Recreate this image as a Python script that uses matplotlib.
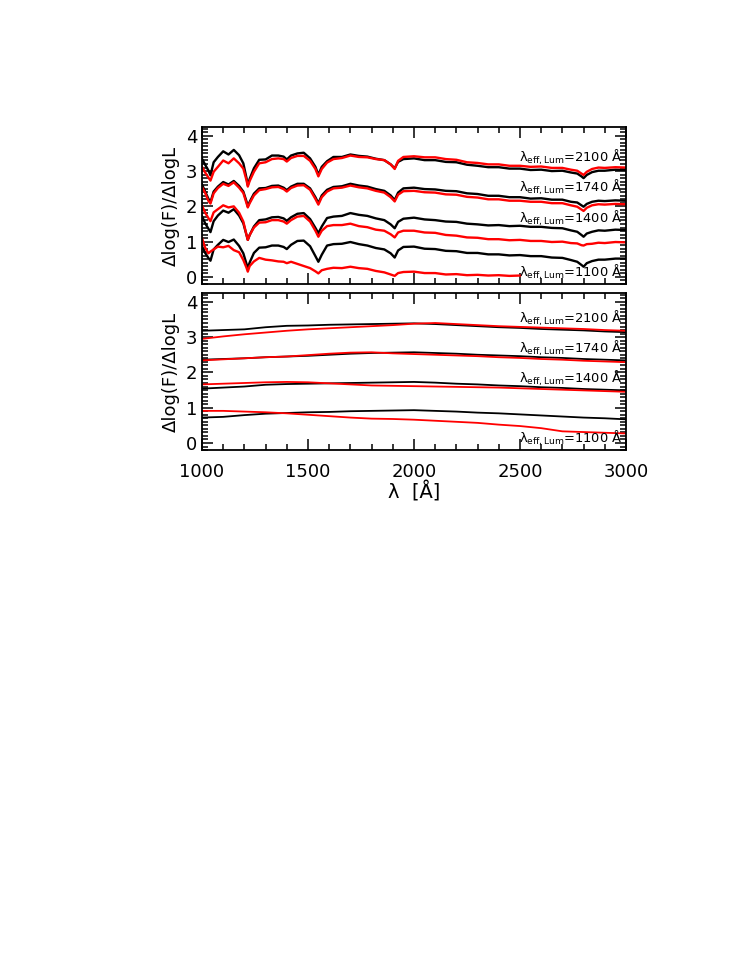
import numpy as np
import matplotlib
matplotlib.use('Agg')
import matplotlib.pyplot as plt
from matplotlib.ticker import MultipleLocator

# Gornji panel: spektri (talasna duzina u Angstremima)
wl_spec = [1000, 1015, 1030, 1040, 1055, 1075, 1100, 1125, 1150, 1175, 1195, 1210, 1216,
           1225, 1245, 1270, 1300, 1330, 1360, 1385, 1400, 1420, 1450, 1480, 1510, 1535,
           1549, 1565, 1590, 1620, 1660, 1700, 1740, 1780, 1820, 1860, 1890, 1909, 1925,
           1950, 2000, 2050, 2100, 2150, 2200, 2250, 2300, 2350, 2400, 2450, 2500, 2550,
           2600, 2650, 2700, 2740, 2770, 2790, 2800, 2815, 2840, 2870, 2900, 2950, 3000]

spec_black_2100 = [3.35, 3.18, 3.02, 2.88, 3.25, 3.40, 3.56, 3.47, 3.60, 3.45, 3.22, 2.80, 2.60,
                   2.78, 3.08, 3.32, 3.33, 3.44, 3.44, 3.41, 3.33, 3.44, 3.50, 3.52, 3.36, 3.12,
                   2.90, 3.12, 3.28, 3.40, 3.40, 3.47, 3.43, 3.41, 3.35, 3.31, 3.19, 3.08, 3.26,
                   3.34, 3.36, 3.31, 3.31, 3.26, 3.25, 3.18, 3.15, 3.11, 3.11, 3.07, 3.07, 3.03,
                   3.04, 3.00, 3.01, 2.96, 2.93, 2.85, 2.80, 2.89, 2.97, 3.01, 3.01, 3.04, 3.03]
spec_red_2100 = [3.12, 2.96, 2.82, 2.73, 2.98, 3.12, 3.30, 3.22, 3.36, 3.22, 3.07, 2.74, 2.56,
                 2.72, 2.98, 3.22, 3.25, 3.34, 3.36, 3.34, 3.27, 3.37, 3.43, 3.43, 3.29, 3.06,
                 2.85, 3.06, 3.24, 3.34, 3.37, 3.44, 3.40, 3.39, 3.34, 3.31, 3.19, 3.06, 3.29,
                 3.40, 3.42, 3.39, 3.39, 3.34, 3.32, 3.25, 3.23, 3.19, 3.19, 3.15, 3.15, 3.12,
                 3.13, 3.09, 3.09, 3.04, 3.01, 2.93, 2.89, 2.98, 3.06, 3.10, 3.09, 3.11, 3.10]
spec_black_1740 = [2.62, 2.42, 2.22, 2.12, 2.42, 2.56, 2.69, 2.62, 2.72, 2.58, 2.42, 2.14, 2.00,
                   2.13, 2.36, 2.51, 2.52, 2.58, 2.59, 2.53, 2.46, 2.56, 2.64, 2.64, 2.51, 2.26,
                   2.09, 2.31, 2.47, 2.55, 2.57, 2.64, 2.59, 2.56, 2.49, 2.44, 2.31, 2.18, 2.39,
                   2.51, 2.53, 2.49, 2.48, 2.44, 2.43, 2.37, 2.35, 2.30, 2.30, 2.26, 2.26, 2.22,
                   2.23, 2.19, 2.19, 2.13, 2.11, 2.03, 1.99, 2.07, 2.13, 2.16, 2.15, 2.17, 2.16]
spec_red_1740 = [2.55, 2.38, 2.16, 2.08, 2.37, 2.52, 2.64, 2.58, 2.68, 2.53, 2.38, 2.09, 1.97,
                 2.09, 2.31, 2.46, 2.49, 2.54, 2.55, 2.49, 2.42, 2.52, 2.59, 2.60, 2.47, 2.21,
                 2.05, 2.26, 2.42, 2.51, 2.53, 2.59, 2.54, 2.51, 2.44, 2.39, 2.26, 2.14, 2.33,
                 2.43, 2.44, 2.40, 2.39, 2.34, 2.33, 2.27, 2.25, 2.20, 2.20, 2.16, 2.16, 2.13,
                 2.13, 2.09, 2.09, 2.03, 1.99, 1.91, 1.87, 1.96, 2.03, 2.06, 2.05, 2.07, 2.06]
spec_black_1400 = [1.72, 1.52, 1.37, 1.27, 1.58, 1.74, 1.88, 1.82, 1.92, 1.74, 1.52, 1.19, 1.05,
                   1.19, 1.43, 1.61, 1.63, 1.69, 1.70, 1.66, 1.59, 1.69, 1.79, 1.81, 1.64, 1.39,
                   1.24, 1.43, 1.67, 1.71, 1.73, 1.81, 1.76, 1.73, 1.66, 1.61, 1.49, 1.38, 1.56,
                   1.65, 1.68, 1.63, 1.61, 1.57, 1.56, 1.51, 1.49, 1.46, 1.47, 1.44, 1.45, 1.42,
                   1.42, 1.39, 1.38, 1.32, 1.28, 1.19, 1.14, 1.23, 1.28, 1.32, 1.31, 1.34, 1.33]
spec_red_1400 = [2.02, 1.82, 1.67, 1.58, 1.83, 1.92, 2.03, 1.97, 2.00, 1.82, 1.57, 1.19, 1.05,
                 1.19, 1.40, 1.54, 1.55, 1.61, 1.61, 1.57, 1.51, 1.61, 1.71, 1.73, 1.57, 1.31,
                 1.14, 1.31, 1.44, 1.47, 1.47, 1.51, 1.44, 1.41, 1.34, 1.31, 1.21, 1.12, 1.26,
                 1.31, 1.31, 1.26, 1.25, 1.19, 1.17, 1.12, 1.11, 1.07, 1.07, 1.04, 1.05, 1.02,
                 1.02, 0.99, 1.00, 0.96, 0.95, 0.90, 0.89, 0.93, 0.94, 0.97, 0.96, 0.99, 0.98]
spec_black_1100 = [0.87, 0.68, 0.54, 0.46, 0.78, 0.91, 1.05, 0.99, 1.06, 0.88, 0.67, 0.37, 0.25,
                   0.41, 0.68, 0.83, 0.84, 0.89, 0.89, 0.85, 0.79, 0.91, 1.02, 1.03, 0.87, 0.59,
                   0.43, 0.63, 0.89, 0.93, 0.94, 0.99, 0.93, 0.89, 0.82, 0.78, 0.67, 0.55, 0.75,
                   0.85, 0.86, 0.80, 0.79, 0.74, 0.73, 0.68, 0.68, 0.64, 0.64, 0.61, 0.62, 0.59,
                   0.59, 0.55, 0.54, 0.48, 0.43, 0.34, 0.29, 0.39, 0.45, 0.49, 0.49, 0.52, 0.52]
# crvena kriva za 1100 A prestaje na 2500 A
spec_red_1100 = [1.10, 0.83, 0.67, 0.72, 0.78, 0.86, 0.84, 0.88, 0.76, 0.70, 0.48, 0.26, 0.15,
                 0.31, 0.44, 0.54, 0.49, 0.47, 0.44, 0.43, 0.39, 0.43, 0.37, 0.31, 0.25, 0.16,
                 0.10, 0.19, 0.23, 0.26, 0.25, 0.29, 0.25, 0.23, 0.17, 0.13, 0.07, 0.03, 0.11,
                 0.14, 0.15, 0.11, 0.11, 0.07, 0.08, 0.05, 0.06, 0.04, 0.05, 0.03, 0.04, np.nan,
                 np.nan, np.nan, np.nan, np.nan, np.nan, np.nan, np.nan, np.nan, np.nan, np.nan,
                 np.nan, np.nan, np.nan]

# Donji panel: glatke krive
wl_smooth = [1000, 1100, 1200, 1300, 1400, 1500, 1600, 1700, 1800, 1900, 2000,
             2100, 2200, 2300, 2400, 2500, 2600, 2700, 2800, 2900, 3000]
sm_black_2100 = [3.18, 3.20, 3.22, 3.28, 3.32, 3.33, 3.35, 3.36, 3.37, 3.38, 3.39,
                 3.37, 3.34, 3.31, 3.28, 3.26, 3.23, 3.21, 3.19, 3.16, 3.14]
sm_red_2100 = [2.95, 3.02, 3.08, 3.13, 3.18, 3.22, 3.25, 3.28, 3.31, 3.34, 3.38,
               3.40, 3.37, 3.34, 3.31, 3.29, 3.27, 3.25, 3.23, 3.20, 3.18]
sm_black_1740 = [2.36, 2.38, 2.40, 2.43, 2.45, 2.47, 2.50, 2.53, 2.55, 2.56, 2.57,
                 2.55, 2.53, 2.50, 2.48, 2.46, 2.43, 2.41, 2.38, 2.36, 2.34]
sm_red_1740 = [2.34, 2.37, 2.40, 2.43, 2.45, 2.49, 2.53, 2.56, 2.57, 2.54, 2.52,
               2.50, 2.48, 2.46, 2.43, 2.41, 2.38, 2.36, 2.33, 2.31, 2.29]
sm_black_1400 = [1.54, 1.57, 1.60, 1.65, 1.67, 1.68, 1.69, 1.70, 1.71, 1.72, 1.73,
                 1.71, 1.68, 1.66, 1.63, 1.61, 1.58, 1.56, 1.53, 1.51, 1.49]
sm_red_1400 = [1.66, 1.68, 1.70, 1.72, 1.73, 1.72, 1.69, 1.66, 1.63, 1.62, 1.61,
               1.60, 1.59, 1.58, 1.57, 1.55, 1.53, 1.51, 1.49, 1.47, 1.45]
sm_black_1100 = [0.72, 0.74, 0.79, 0.83, 0.85, 0.87, 0.88, 0.90, 0.91, 0.92, 0.93,
                 0.91, 0.89, 0.86, 0.84, 0.81, 0.78, 0.75, 0.72, 0.70, 0.67]
sm_red_1100 = [0.91, 0.91, 0.89, 0.87, 0.84, 0.80, 0.76, 0.72, 0.69, 0.68, 0.66,
               0.63, 0.60, 0.57, 0.52, 0.48, 0.42, 0.33, 0.31, 0.29, 0.27]

lum_labels = ['2100', '1740', '1400', '1100']
label_y_top = [3.38, 2.55, 1.67, 0.14]
label_y_bot = [3.54, 2.67, 1.84, 0.13]

plt.rcParams['font.family'] = 'DejaVu Sans'
plt.rcParams['mathtext.fontset'] = 'dejavusans'

fig = plt.figure(figsize=(7.47, 9.67), dpi=100)
ax_top = fig.add_axes([0.2704, 0.7063, 0.5676, 0.1624])
ax_bot = fig.add_axes([0.2704, 0.5346, 0.5676, 0.1624])

top_pairs = [(spec_black_2100, spec_red_2100), (spec_black_1740, spec_red_1740),
             (spec_black_1400, spec_red_1400), (spec_black_1100, spec_red_1100)]
for crna, crvena in top_pairs:
    ax_top.plot(wl_spec, crna, color='black', lw=1.7)
    ax_top.plot(wl_spec, crvena, color='red', lw=1.7)

bot_pairs = [(sm_black_2100, sm_red_2100), (sm_black_1740, sm_red_1740),
             (sm_black_1400, sm_red_1400), (sm_black_1100, sm_red_1100)]
for crna, crvena in bot_pairs:
    ax_bot.plot(wl_smooth, crna, color='black', lw=1.3)
    ax_bot.plot(wl_smooth, crvena, color='red', lw=1.3)

for ax, ys in [(ax_top, label_y_top), (ax_bot, label_y_bot)]:
    for lab, y in zip(lum_labels, ys):
        ax.text(2985, y, 'λ' + r'$_{\rm eff,Lum}$' + '=' + lab + ' Å', ha='right',
                va='center', fontsize=9.4)
    ax.set_xlim(1000, 3000)
    ax.set_ylim(-0.2, 4.25)
    ax.xaxis.set_major_locator(MultipleLocator(500))
    ax.xaxis.set_minor_locator(MultipleLocator(100))
    ax.yaxis.set_major_locator(MultipleLocator(1))
    ax.yaxis.set_minor_locator(MultipleLocator(0.1))
    ax.tick_params(which='both', direction='in', top=True, right=True, width=1.1)
    ax.tick_params(which='major', length=8, labelsize=13)
    ax.tick_params(which='minor', length=4)
    ax.tick_params(axis='x', which='major', pad=9)
    for s in ax.spines.values():
        s.set_linewidth(1.3)
    ax.set_ylabel('Δlog(F)/ΔlogL', fontsize=13, labelpad=4)

ax_top.tick_params(labelbottom=False)
ax_bot.set_xlabel('λ  [Å]', fontsize=14, labelpad=1)

fig.savefig('out.png', dpi=100)
